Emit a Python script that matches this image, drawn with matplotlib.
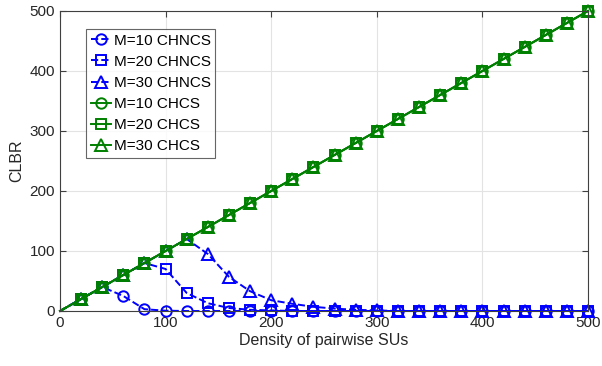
import matplotlib.pyplot as plt
import numpy as np

plt.rcParams['font.family'] = ['Liberation Sans', 'DejaVu Sans']

# density of pairwise SUs
density = [0, 20, 40, 60, 80, 100, 120, 140, 160, 180, 200, 220, 240, 260,
           280, 300, 320, 340, 360, 380, 400, 420, 440, 460, 480, 500]

# CLBR without cooperative hopping (drops once channels saturate)
chncs_m10 = [0, 20, 40, 25, 3, 0.5, 0, 0, 0, 0, 0, 0, 0, 0,
             0, 0, 0, 0, 0, 0, 0, 0, 0, 0, 0, 0]
chncs_m20 = [0, 20, 40, 60, 80, 70, 30, 13, 5, 2, 1, 0, 0, 0,
             0, 0, 0, 0, 0, 0, 0, 0, 0, 0, 0, 0]
chncs_m30 = [0, 20, 40, 60, 80, 100, 120, 95, 57, 33, 18, 12, 7, 4,
             2, 1, 0, 0, 0, 0, 0, 0, 0, 0, 0, 0]

# CLBR with cooperative hopping
chcs_m10 = [0, 20, 40, 60, 80, 100, 120, 140, 160, 180, 200, 220, 240, 260,
            280, 300, 320, 340, 360, 380, 400, 420, 440, 460, 480, 500]
chcs_m20 = list(chcs_m10)
chcs_m30 = list(chcs_m10)

blue = (0, 0, 1)
green = (0, 0.5, 0)
lw = 1.4
mk = slice(1, None)
sizes = {'o': 7.5, 's': 6.5, '^': 8}

fig = plt.figure(figsize=(6.02, 3.66), dpi=100)
ax = fig.add_axes([60/602, 55/366, 528/602, 300/366])

series = [(chncs_m10, '--', 'o', blue, 'M=10 CHNCS'),
          (chncs_m20, '--', 's', blue, 'M=20 CHNCS'),
          (chncs_m30, '--', '^', blue, 'M=30 CHNCS'),
          (chcs_m10, '-', 'o', green, 'M=10 CHCS'),
          (chcs_m20, '-', 's', green, 'M=20 CHCS'),
          (chcs_m30, '-', '^', green, 'M=30 CHCS')]
for y, ls, m, c, lab in series:
    ax.plot(density, y, ls=ls, marker=m, color=c, mfc='none', ms=sizes[m], lw=lw, mew=lw,
            markevery=mk, label=lab, clip_on=False)

ax.set_xlim(0, 500)
ax.set_ylim(0, 500)
ax.set_xticks(np.arange(0, 501, 100))
ax.set_yticks(np.arange(0, 501, 100))
ax.grid(True, color='#e3e3e3', lw=0.8)
ax.set_axisbelow(True)
ax.tick_params(direction='in', labelsize=11, length=4, top=True, right=True,
               colors='#404040', labelcolor='#262626')
for sp in ax.spines.values():
    sp.set_color('#404040')
    sp.set_linewidth(0.8)

ax.set_xlabel('Density of pairwise SUs', fontsize=11.5, labelpad=2, color='#262626')
ax.set_ylabel('CLBR', fontsize=11.5, labelpad=4, color='#262626')

leg = ax.legend(loc='upper left', bbox_to_anchor=(0.05, 0.94), fontsize=11, frameon=True,
                fancybox=False, edgecolor='#404040', handlelength=1.3, handletextpad=0.2,
                labelspacing=0.47, borderpad=0.3, borderaxespad=0)
leg.get_frame().set_linewidth(0.8)

plt.savefig('out.png', dpi=100)
